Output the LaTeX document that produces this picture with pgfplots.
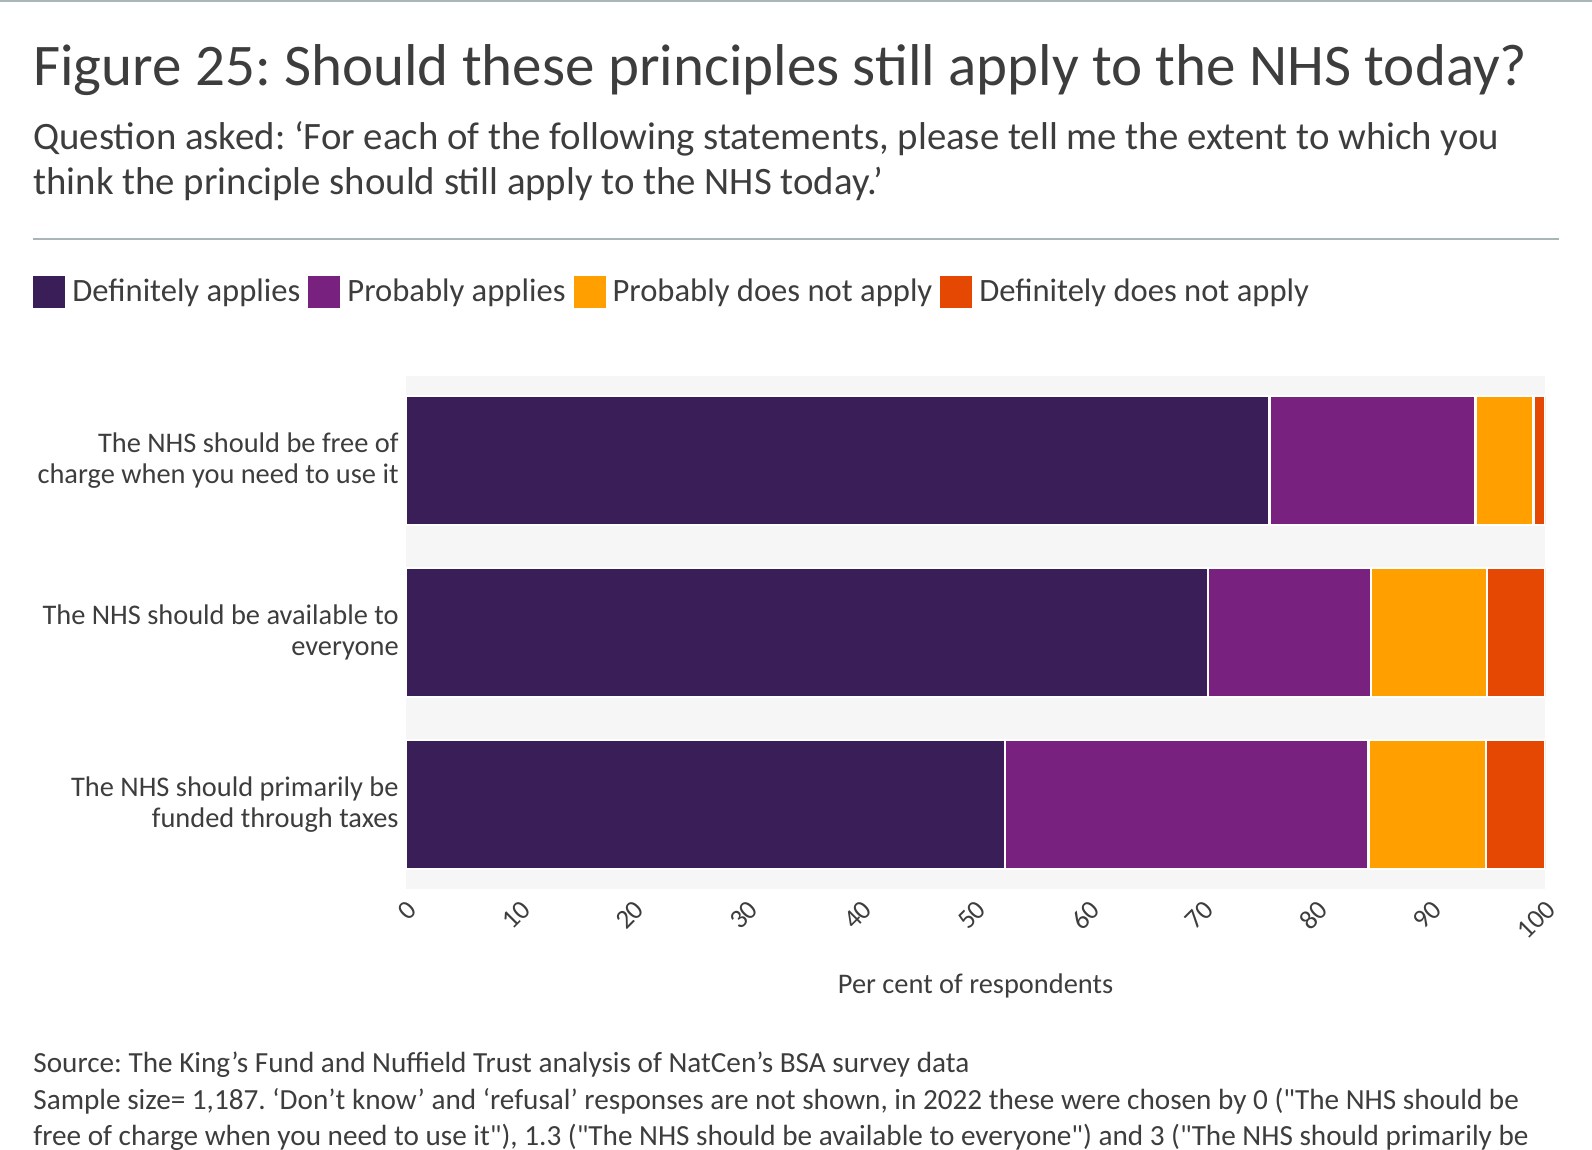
\documentclass[border=0pt]{standalone}
\usepackage{fontspec}
\setmainfont{Carlito}
\newfontfamily\plainq{Carlito}
\newcommand\dq{{\plainq"}}
\usepackage{pgfplots}
\pgfplotsset{compat=1.18}
\frenchspacing

\definecolor{defapp}{HTML}{3A1E57}
\definecolor{probapp}{HTML}{78217F}
\definecolor{probnot}{HTML}{FFA000}
\definecolor{defnot}{HTML}{E44802}
\definecolor{plotbg}{HTML}{F6F6F6}
\definecolor{txt}{HTML}{3D3D3D}
\definecolor{rulecol}{HTML}{AAB5B8}

\begin{document}
\begin{tikzpicture}[x=0.5bp,y=-0.5bp]
\useasboundingbox (0,0) rectangle (1592,1150);
\fill[rulecol] (0,0) rectangle (1592,2.5);

% titles
\node[anchor=base west, inner sep=0pt, text=txt, font=\fontsize{29.5bp}{32bp}\selectfont]
  at (33,86) {Figure 25: Should these principles still apply to the NHS today?};
\node[anchor=base west, inner sep=0pt, text=txt, font=\fontsize{19.4bp}{22bp}\selectfont]
  at (33,150) {Question asked: ‘For each of the following statements, please tell me the extent to which you};
\node[anchor=base west, inner sep=0pt, text=txt, font=\fontsize{19.4bp}{22bp}\selectfont]
  at (33,195) {think the principle should still apply to the NHS today.’};
\draw[rulecol, line width=1bp] (33,239) -- (1559,239);

% source notes
\node[anchor=base west, inner sep=0pt, text=txt, font=\fontsize{14.6bp}{18bp}\selectfont]
  at (33,1072) {Source: The King’s Fund and Nuffield Trust analysis of NatCen’s BSA survey data};
\node[anchor=base west, inner sep=0pt, text=txt, font=\fontsize{14.6bp}{18bp}\selectfont]
  at (33,1109) {Sample size= 1,187. ‘Don’t know’ and ‘refusal’ responses are not shown, in 2022 these were chosen by 0 (\dq The NHS should be};
\node[anchor=base west, inner sep=0pt, text=txt, font=\fontsize{14.6bp}{18bp}\selectfont]
  at (33,1145) {free of charge when you need to use it\dq), 1.3 (\dq The NHS should be available to everyone\dq) and 3 (\dq The NHS should primarily be};

\begin{axis}[
    at={(203bp,-444.3bp)}, anchor=south west,
    width=569.5bp, height=256.3bp, scale only axis,
    xbar stacked, bar width=64.5bp,
    xmin=0, xmax=100, ymin=-0.49, ymax=2.49,
    xtick={0,10,...,100},
    ytick={0,1,2},
    yticklabels={{The NHS should primarily be\\funded through taxes},
                 {The NHS should be available to\\everyone},
                 {The NHS should be free of\\charge when you need to use it}},
    /pgf/number format/assume math mode=true,
    axis background/.style={fill=plotbg},
    axis line style={draw=none},
    major tick length=0pt,
    tick style={draw=none},
    xticklabel style={font=\fontsize{13.5bp}{13.5bp}\selectfont, text=txt,
        inner sep=0pt, xshift=3bp, rotate=45, anchor=east},
    xticklabel shift=8.2bp,
    yticklabel style={font=\fontsize{14.2bp}{15.5bp}\selectfont, text=txt,
        align=right, inner sep=0pt},
    yticklabel shift=3.5bp,
    xlabel={Per cent of respondents},
    every axis x label/.style={at={(axis description cs:0.5,0)}, anchor=base,
        yshift=-52.2bp, font=\fontsize{14.2bp}{16bp}\selectfont, text=txt},
    legend columns=4,
    legend style={at={(axis description cs:-0.3275,1.1639)}, anchor=west,
        draw=none, fill=none, inner sep=0pt,
        nodes={inner sep=0pt, text=txt, font=\fontsize{16.3bp}{18bp}\selectfont},
        /tikz/every odd column/.append style={column sep=3.5bp},
        /tikz/every even column/.append style={column sep=4bp}},
    every axis plot/.append style={draw=white, line width=1.2bp,
        legend image code/.code={\fill[##1, draw=none] (0bp,-8bp) rectangle (16bp,8bp);}},
]
\addplot[fill=defapp] coordinates {(75.8,2) (70.4,1) (52.6,0)};
\addplot[fill=probapp] coordinates {(18.1,2) (14.3,1) (31.9,0)};
\addplot[fill=probnot] coordinates {(5.1,2) (10.2,1) (10.3,0)};
\addplot[fill=defnot] coordinates {(1.0,2) (5.1,1) (5.2,0)};
\legend{Definitely applies, Probably applies, Probably does not apply, Definitely does not apply}
\end{axis}
\end{tikzpicture}
\end{document}
